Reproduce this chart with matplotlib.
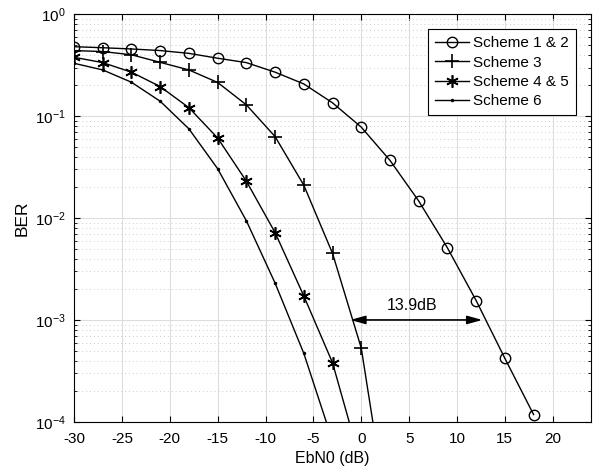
import numpy as np
import matplotlib.pyplot as plt
from matplotlib.ticker import LogLocator, NullFormatter

plt.rcParams['font.family'] = ['Liberation Sans', 'DejaVu Sans']
plt.rcParams['axes.unicode_minus'] = False

ebn0 = np.arange(-30, 19, 3)  # dB

# BER (each scheme ends where its curve leaves the axes)
ber_12 = [0.48, 0.469, 0.456, 0.44, 0.413, 0.37, 0.335, 0.27, 0.207, 0.135,
          0.078, 0.0368, 0.0147, 0.0051, 0.00155, 0.00042, 0.000118]
ber_3 = [0.44, 0.43, 0.40, 0.337, 0.284, 0.214, 0.129, 0.063, 0.021, 0.0045,
         0.00053, 0.0000085]
ber_45 = [0.378, 0.335, 0.27, 0.195, 0.121, 0.061, 0.023, 0.0072, 0.00172,
          0.00038, 0.000038]
ber_6 = [0.33, 0.284, 0.215, 0.14, 0.075, 0.0305, 0.0094, 0.0023, 0.00047,
         0.000065]

labels = ['Scheme 1 & 2', 'Scheme 3', 'Scheme 4 & 5', 'Scheme 6']

fig = plt.figure(figsize=(5.97, 4.74), dpi=100)
ax = fig.add_axes([0.124, 0.110, 0.866, 0.860])

asterisk = (6, 2, 0)  # matlab-like asterisk
ax.semilogy(ebn0[:len(ber_12)], ber_12, 'k-o', mfc='none', ms=7.5, mew=1, lw=1, label=labels[0])
ax.semilogy(ebn0[:len(ber_3)], ber_3, 'k-+', ms=10, mew=1.2, lw=1, label=labels[1])
ax.semilogy(ebn0[:len(ber_45)], ber_45, 'k-', marker=asterisk, ms=9, mew=1.2, lw=1, label=labels[2])
ax.semilogy(ebn0[:len(ber_6)], ber_6, 'k.-', ms=3, lw=1, label=labels[3])

ax.set_xlim(-30, 24)
ax.set_ylim(1e-4, 1)
ax.set_xticks(np.arange(-30, 21, 5))
ax.yaxis.set_major_locator(LogLocator(base=10, numticks=10))
ax.yaxis.set_minor_locator(LogLocator(base=10, subs=np.arange(2, 10), numticks=20))
ax.yaxis.set_minor_formatter(NullFormatter())

ax.grid(True, which='major', color='#dddddd', lw=0.8)
ax.grid(True, which='minor', axis='y', color='#cccccc', ls=(0, (1, 3)), lw=0.7)
ax.set_axisbelow(True)
ax.tick_params(which='both', direction='in', top=True, right=True, labelsize=11)
ax.tick_params(which='major', length=4)
ax.tick_params(which='minor', length=2)
ax.tick_params(axis='x', pad=7)
ax.tick_params(axis='y', pad=6)

ax.set_xlabel('EbN0 (dB)', fontsize=11.5, labelpad=4)
ax.set_ylabel('BER', fontsize=12.5, labelpad=4)

# gap between Scheme 3 and Scheme 1 & 2 at BER = 1e-3
ax.annotate('', xy=(-1.15, 1e-3), xytext=(12.65, 1e-3),
            arrowprops=dict(arrowstyle='<|-|>,head_length=0.9,head_width=0.25',
                            color='k', lw=1.2, shrinkA=0, shrinkB=0))
ax.text(5.3, 1.38e-3, '13.9dB', ha='center', va='center', fontsize=11.5)

leg = ax.legend(loc='upper right', fontsize=11, frameon=True, fancybox=False,
                edgecolor='k', framealpha=1, borderaxespad=1.0, handlelength=2.2,
                handletextpad=0.3, labelspacing=0.35, borderpad=0.45)
leg.get_frame().set_linewidth(0.8)

fig.savefig('out.png', dpi=100)
